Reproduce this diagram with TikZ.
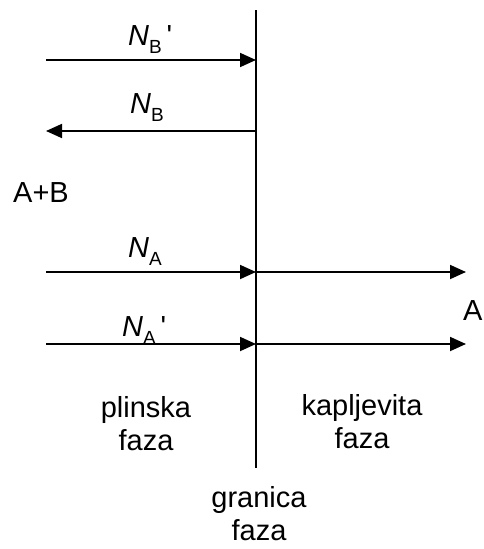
\documentclass[tikz,border=0pt]{standalone}
\usepackage{fontspec}
\setmainfont{Liberation Sans}
\usetikzlibrary{arrows.meta}
\newcommand{\flux}[2]{\textit{N}\raisebox{-0.28em}{\fontsize{19}{19}\selectfont #1}#2}
\tikzset{
  arr/.style={line width=1.8pt, -{Triangle[length=16pt,width=14pt]}},
  lbl/.style={inner sep=0pt, anchor=base west},
  txt/.style={inner sep=0pt, anchor=base, align=center}
}
\begin{document}
\begin{tikzpicture}[x=1pt,y=-1pt,font=\fontsize{29}{33}\selectfont]
\useasboundingbox (0,0) rectangle (483,549);
% interface
\coordinate (top) at (256,10);
\coordinate (bot) at (256,468);
\draw[line width=2.6pt] (top) -- (bot);
% N_B'
\coordinate (b1l) at (46,60);
\coordinate (b1i) at (256,60);
\draw[arr] (b1l) -- (b1i);
\node[lbl] (nb1) at (128,45) {\flux{B}{\,\textquotesingle}};
% N_B
\coordinate (b2l) at (46,131);
\coordinate (b2i) at (256,131);
\draw[arr] (b2i) -- (b2l);
\node[lbl] (nb2) at (130,113) {\flux{B}{}};
% A+B
\node[lbl] (ab) at (13,202) {A+B};
% N_A
\coordinate (a1l) at (46,272);
\coordinate (a1i) at (256,272);
\coordinate (a1r) at (466,272);
\draw[arr] (a1l) -- (a1i);
\draw[arr] (a1i) -- (a1r);
\node[lbl] (na1) at (128,257) {\flux{A}{}};
% N_A'
\coordinate (a2l) at (46,344);
\coordinate (a2i) at (256,344);
\coordinate (a2r) at (466,344);
\draw[arr] (a2l) -- (a2i);
\draw[arr] (a2i) -- (a2r);
\node[lbl] (na2) at (122,336) {\flux{A}{\,\textquotesingle}};
% A
\node[lbl] (a) at (463,320) {A};
% phase labels
\node[txt] (gas) at (146,450) {plinska\\faza};
\node[txt] (liq) at (362,448) {kapljevita\\faza};
\node[txt] (gran) at (259,540) {granica\\faza};
\end{tikzpicture}
\end{document}
